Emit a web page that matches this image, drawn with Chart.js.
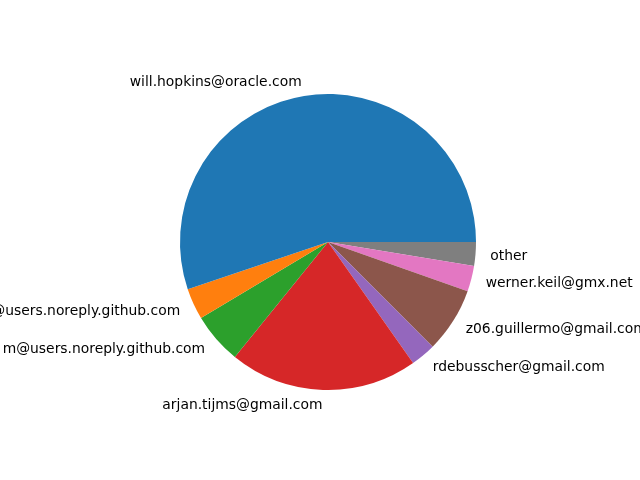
<!DOCTYPE html>
<html>
<head>
<meta charset="utf-8">
<script src="https://cdn.jsdelivr.net/npm/chart.js@4/dist/chart.umd.min.js"></script>
<style>
  html, body { margin: 0; padding: 0; background: #ffffff; }
  #wrap { width: 640px; height: 480px; }
</style>
</head>
<body>
<div id="wrap"><canvas id="c" width="640" height="480"></canvas></div>
<script>
// Categories in matplotlib order (counter-clockwise from east)
const categories = [
  "will.hopkins@oracle.com",
  "@users.noreply.github.com",
  "m@users.noreply.github.com",
  "arjan.tijms@gmail.com",
  "rdebusscher@gmail.com",
  "z06.guillermo@gmail.com",
  "werner.keil@gmx.net",
  "other"
];
// Share of the pie
const shares = [198.6, 12.3, 20.1, 74.1, 9.9, 25.6, 10.1, 9.3];
const colors = ["#1f77b4", "#ff7f0e", "#2ca02c", "#d62728", "#9467bd", "#8c564b", "#e377c2", "#7f7f7f"];

// Chart.js draws clockwise; reverse to mimic matplotlib counter-clockwise order
const labelsCW = categories.slice().reverse();
const dataCW = shares.slice().reverse();
const colorsCW = colors.slice().reverse();

const pieLabels = {
  id: 'pieLabels',
  afterDatasetsDraw(chart) {
    const ctx = chart.ctx;
    const meta = chart.getDatasetMeta(0);
    ctx.save();
    ctx.font = '13.89px "DejaVu Sans"';
    ctx.fillStyle = '#000000';
    ctx.textBaseline = 'middle';
    meta.data.forEach((arc, i) => {
      const p = arc.getProps(['x', 'y', 'startAngle', 'endAngle', 'outerRadius'], true);
      const mid = (p.startAngle + p.endAngle) / 2;
      const r = p.outerRadius * 1.1;
      const lx = p.x + Math.cos(mid) * r;
      const ly = p.y + Math.sin(mid) * r + 1;
      ctx.textAlign = lx < p.x ? 'right' : 'left';
      ctx.fillText(chart.data.labels[i], lx, ly);
    });
    ctx.restore();
  }
};

new Chart(document.getElementById('c'), {
  type: 'pie',
  data: {
    labels: labelsCW,
    datasets: [{
      data: dataCW,
      backgroundColor: colorsCW,
      borderWidth: 0,
      hoverOffset: 0
    }]
  },
  options: {
    responsive: false,
    animation: false,
    rotation: 90,
    layout: { padding: { left: 180, right: 164, top: 94, bottom: 90 } },
    plugins: {
      legend: { display: false },
      tooltip: { enabled: false }
    }
  },
  plugins: [pieLabels]
});
</script>
</body>
</html>
